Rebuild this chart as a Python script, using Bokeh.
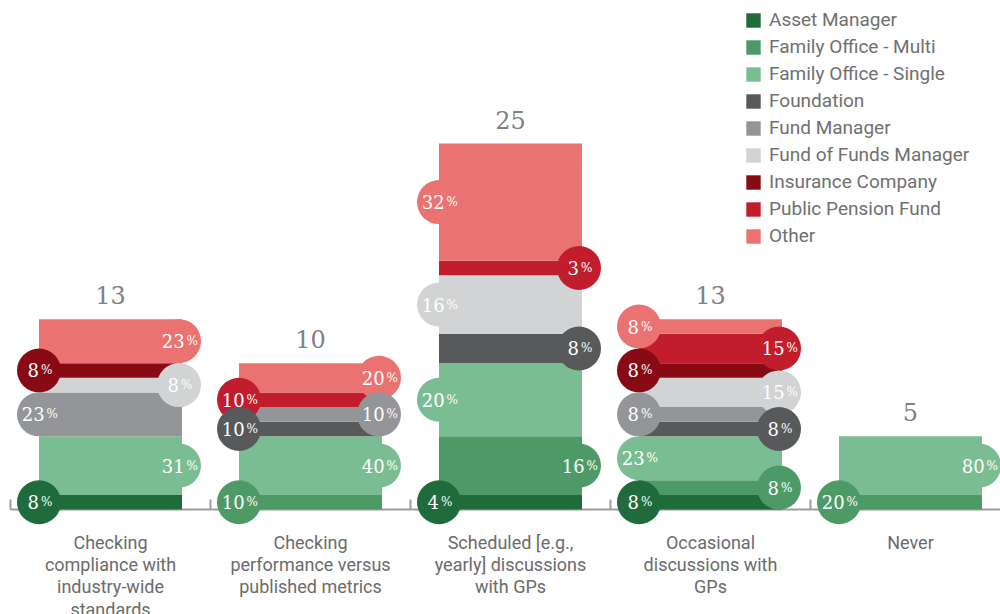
from bokeh.plotting import figure
from bokeh.models import Range1d, ColumnDataSource, Legend, LegendItem
from bokeh.core.properties import value
from bokeh.embed import file_html
from bokeh.resources import INLINE

categories = [
    "Checking\ncompliance with\nindustry-wide\nstandards",
    "Checking\nperformance versus\npublished metrics",
    "Scheduled [e.g.,\nyearly] discussions\nwith GPs",
    "Occasional\ndiscussions with\nGPs",
    "Never",
]
series = ["Asset Manager", "Family Office - Multi", "Family Office - Single", "Foundation",
          "Fund Manager", "Fund of Funds Manager", "Insurance Company", "Public Pension Fund", "Other"]
colors = ["#1f6b3b", "#4e9a67", "#7bbd93", "#58595b", "#939598", "#d1d3d4", "#880a14", "#c21d2d", "#ea7371"]

# counts per series, one value per category
asset_manager = [1, 0, 1, 1, 0]
family_office_multi = [0, 1, 4, 1, 1]
family_office_single = [4, 4, 5, 3, 4]
foundation = [0, 1, 2, 1, 0]
fund_manager = [3, 1, 0, 1, 0]
fund_of_funds_manager = [1, 0, 4, 2, 0]
insurance_company = [1, 0, 0, 1, 0]
public_pension_fund = [0, 1, 1, 2, 0]
other = [3, 2, 8, 1, 0]
counts = [asset_manager, family_office_multi, family_office_single, foundation, fund_manager,
          fund_of_funds_manager, insurance_company, public_pension_fund, other]

# percentage labels as printed
pct_asset_manager = [8, 0, 4, 8, 0]
pct_family_office_multi = [0, 10, 16, 8, 20]
pct_family_office_single = [31, 40, 20, 23, 80]
pct_foundation = [0, 10, 8, 8, 0]
pct_fund_manager = [23, 10, 0, 8, 0]
pct_fund_of_funds_manager = [8, 0, 16, 15, 0]
pct_insurance_company = [8, 0, 0, 8, 0]
pct_public_pension_fund = [0, 10, 3, 15, 0]
pct_other = [23, 20, 32, 8, 0]
pcts = [pct_asset_manager, pct_family_office_multi, pct_family_office_single, pct_foundation,
        pct_fund_manager, pct_fund_of_funds_manager, pct_insurance_company, pct_public_pension_fund, pct_other]

totals = [13, 10, 25, 13, 5]

ncat = len(categories)
centers = [i + 0.5 for i in range(ncat)]
BW = 0.715

p = figure(width=1000, height=614, x_range=Range1d(-0.05, 4.95), y_range=Range1d(-7.17, 34.77),
           output_backend="svg", toolbar_location=None, min_border=0)
p.xaxis.visible = False
p.yaxis.visible = False
p.xgrid.visible = False
p.ygrid.visible = False
p.outline_line_color = None
p.background_fill_color = "white"
p.border_fill_color = "white"

# axis baseline with ticks at category boundaries
AXC = "#9d9d9f"
p.segment(x0=[0], y0=[0], x1=[4.95], y1=[0], line_color=AXC, line_width=2)
bounds = list(range(ncat))
p.segment(x0=bounds, y0=[0] * len(bounds), x1=bounds, y1=[0.68] * len(bounds), line_color=AXC, line_width=2)

# stacked bars
bottoms = [0.0] * ncat
seg_info = []  # (cat, series index, bottom, top)
renderers = []
for si, (name, col, vals) in enumerate(zip(series, colors, counts)):
    tops = [b + v for b, v in zip(bottoms, vals)]
    src = ColumnDataSource(dict(x=centers, bottom=bottoms, top=tops))
    r = p.vbar(x="x", bottom="bottom", top="top", width=BW, source=src, fill_color=col, line_color=None)
    renderers.append(r)
    for ci in range(ncat):
        if vals[ci] > 0:
            seg_info.append((ci, si, bottoms[ci], tops[ci]))
    bottoms = tops

# label circles: alternate left/right starting at bottom on left
cx, cy, cc, numtxt, num_off, pct_off = [], [], [], [], [], []
by_cat = {}
for ci, si, b, t in seg_info:
    by_cat.setdefault(ci, []).append((si, b, t))
DW = 11.2
PW = 11.2
for ci in range(ncat):
    segs = by_cat.get(ci, [])
    entries = []
    for k, (si, b, t) in enumerate(segs):
        left = (k % 2 == 0)
        x = centers[ci] - BW / 2 if left else centers[ci] + BW / 2 - 0.015
        entries.append((x, (b + t) / 2, colors[si], str(pcts[si][ci])))
    # draw upper ones first so lower circles sit on top
    for x, y, c, s in reversed(entries):
        cx.append(x); cy.append(y); cc.append(c); numtxt.append(s)
        nd = len(s)
        W = nd * DW + 2 + PW
        off = -W / 2 + nd * DW + 1
        num_off.append(off)
        pct_off.append(off + 2)

csrc = ColumnDataSource(dict(x=cx, y=cy, c=cc, t=numtxt, no=num_off, po=pct_off, pc=["%"] * len(cx)))
p.scatter(x="x", y="y", size=44, marker="circle", fill_color="c", line_color=None, source=csrc)
p.text(x="x", y="y", text="t", x_offset="no", y_offset=0, text_align="right", text_baseline="alphabetic",
       text_color="white", text_font=value("DejaVu Serif"), text_font_size="18px", source=csrc)
p.text(x="x", y="y", text="pc", x_offset="po", y_offset=0, text_align="left", text_baseline="alphabetic",
       text_color="white", text_font=value("DejaVu Serif"), text_font_size="12px", source=csrc)

# totals
tsrc = ColumnDataSource(dict(x=centers, y=totals, t=[str(v) for v in totals]))
p.text(x="x", y="y", text="t", y_offset=-24, text_align="center", text_baseline="alphabetic",
       text_color="#808080", text_font=value("DejaVu Serif"), text_font_size="24px", source=tsrc)

# category labels
lsrc = ColumnDataSource(dict(x=centers, y=[0] * ncat, t=categories))
p.text(x="x", y="y", text="t", y_offset=22, text_align="center", text_baseline="top",
       text_color="#6b6b6b", text_font=value("Roboto"), text_font_size="18px", text_line_height=1.07,
       source=lsrc)

legend = Legend(items=[LegendItem(label=n, renderers=[r]) for n, r in zip(series, renderers)],
                location=(744, 367), orientation="vertical")
legend.glyph_width = 18
legend.glyph_height = 18
legend.label_height = 20
legend.spacing = 4
legend.padding = 0
legend.margin = 0
legend.label_standoff = 7
legend.label_text_font = "Roboto"
legend.label_text_font_size = "19px"
legend.label_text_color = "#707070"
legend.border_line_color = None
legend.background_fill_alpha = 0
p.add_layout(legend)

open("out.html", "w").write(file_html(p, INLINE))
